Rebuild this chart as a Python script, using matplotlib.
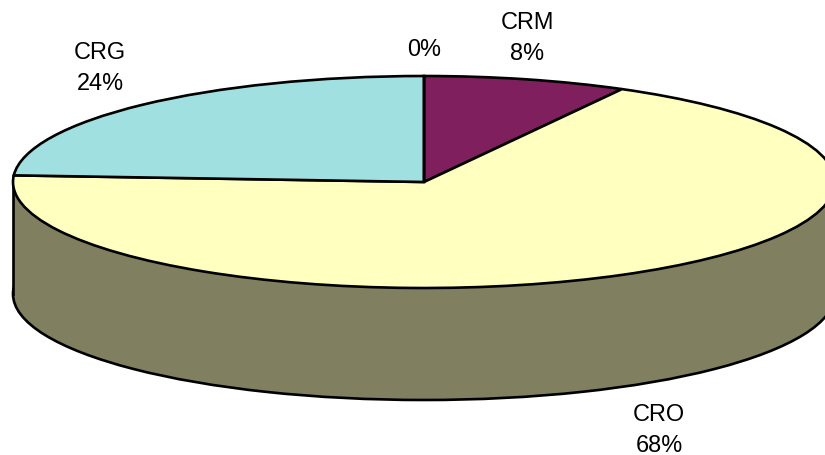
import matplotlib
matplotlib.use('Agg')
import matplotlib.pyplot as plt

labels = ['CRM', 'CRO', 'CRG', '']
values = [8, 68, 24, 0]
colors = ['#801F5E', '#FFFFC0', '#A0E0E0', '#FFFFFF']
side_color = '#808060'
label_text = ['CRM\n8%', 'CRO\n68%', 'CRG\n24%', '0%']

plt.rcParams['font.family'] = ['Liberation Sans', 'DejaVu Sans']

# pixel layout of the flattened pie
W, H = 825, 455
cx, cy = 424, 182
rx, ry = 411, 106
depth = 112 / ry

def to_x(px):
	return (px - cx) / rx

def to_y(py):
	return (cy - py) / ry

fig = plt.figure(figsize=(W / 100, H / 100), dpi=100)
ax = fig.add_axes([0, 0, 1, 1])

edge = {'edgecolor': 'black', 'linewidth': 1.9}

# side wall: same pie dropped down, plus the block joining the two
ax.pie([1], colors=[side_color], center=(0, -depth), radius=1, startangle=0, wedgeprops=edge)
ax.fill_between([-1, 1], [-depth, -depth], [0, 0], color=side_color, linewidth=0, zorder=2)
ax.plot([-1, -1], [0, -depth], color='black', lw=1.9, zorder=3)
ax.plot([1, 1], [0, -depth], color='black', lw=1.9, zorder=3)

wedges, _ = ax.pie(values, colors=colors, center=(0, 0), radius=1, startangle=90,
	counterclock=False, wedgeprops=edge)
for w in wedges:
	w.set_zorder(4)

label_px = [(527, 38), (659, 430), (100, 68), (424, 49)]
for s, (px, py) in zip(label_text, label_px):
	ax.text(to_x(px), to_y(py), s, ha='center', va='center', fontsize=16.9, linespacing=1.4, zorder=5)

ax.set_aspect('auto')
ax.set_xlim(to_x(0), to_x(W))
ax.set_ylim(to_y(H), to_y(0))
ax.axis('off')

fig.savefig('out.png', dpi=100, facecolor='white')
